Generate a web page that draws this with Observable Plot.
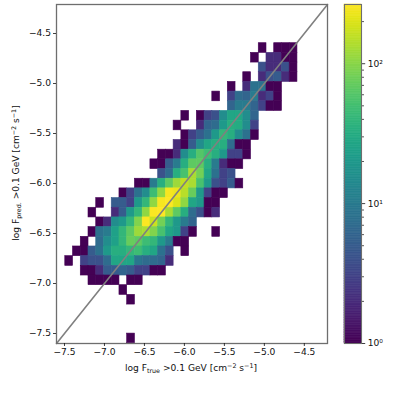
<!DOCTYPE html>
<html>
<head>
<meta charset="utf-8">
<script src="https://cdn.jsdelivr.net/npm/d3@7"></script>
<script src="https://cdn.jsdelivr.net/npm/@observablehq/plot@0.6"></script>
<style>
html,body{margin:0;padding:0;background:#fff;width:399px;height:399px;overflow:hidden}
#wrap{position:relative;width:399px;height:399px}
#wrap svg{position:absolute;left:0;top:0;background:transparent;max-width:none}
</style>
</head>
<body>
<div id="wrap"></div>
<script>
const xEdgeStart = -7.49, yEdgeStart = -4.597, binSize = 0.0968;
const xDomain = [-7.6, -4.21], yDomain = [-7.6, -4.21];
const countDomain = [1, 265];
const xTicks = [-7.5, -7, -6.5, -6, -5.5, -5, -4.5];
const yTicks = [-7.5, -7, -6.5, -6, -5.5, -5, -4.5];
const majorCounts = [1, 10, 100];
const minorCounts = [2,3,4,5,6,7,8,9,20,30,40,50,60,70,80,90,200];
// Each row runs from the top of the grid down: [first column, counts...]
const rows = [
 [25, 1,0,1,1,1],
 [24, 1,0,2,2,1,1],
 [25, 4,2,2,4,1],
 [23, 1,0,2,4,5,2,1],
 [21, 1,0,2,8,8,1,1],
 [19, 1,0,3,7,6,10,2,3,1],
 [21, 6,10,10,6,3,1,1],
 [15, 1,0,1,3,4,15,27,27,15,6],
 [14, 1,0,0,2,6,7,20,33,30,15,3],
 [15, 1,3,5,8,20,40,33,15,8,1],
 [14, 2,1,5,15,27,33,33,7,1,1],
 [12, 1,1,2,15,33,60,46,33,20,3,3,1],
 [11, 1,1,5,10,33,66,66,33,10,2,1,1],
 [12, 4,7,33,52,130,80,27,8,3,4],
 [9, 1,1,10,33,66,118,158,130,52,20,4,3,5,1],
 [7, 1,3,8,15,46,105,245,225,145,72,20,3,1,1],
 [4, 1,0,5,5,3,20,40,105,245,262,195,105,27,20,1,1],
 [3, 1,0,0,2,5,20,40,105,255,262,130,66,33,7,4,1,2],
 [4, 1,2,15,20,40,92,255,170,80,40,20,10,6],
 [3, 1,8,10,24,40,66,118,130,92,52,27,20,3,1,0,0,1],
 [2, 1,0,7,15,24,40,72,66,46,40,20,10,1,1],
 [1, 1,1,5,8,20,33,33,40,46,33,27,8,4,0,1],
 [0, 1,0,3,4,4,7,27,27,27,9,7,7,6,2],
 [2, 1,1,2,5,5,6,5,3,3,1,1],
 [3, 1,1,1,1,0,1,1],
 [7, 1],
 [8, 1],
 [],
 [],
 [],
 [8, 1]
];

const cells = [];
rows.forEach((row, r) => {
  row.slice(1).forEach((count, i) => {
    if (count > 0) {
      const c = row[0] + i;
      cells.push({
        x1: xEdgeStart + c * binSize,
        x2: xEdgeStart + (c + 1) * binSize,
        y1: yEdgeStart - (r + 1) * binSize,
        y2: yEdgeStart - r * binSize,
        count
      });
    }
  });
});

const fmt = d => d.toFixed(1).replace("-", "\u2212");
const font = "DejaVu Sans";
const fs = 9.1;
const ink = "#111";

const main = Plot.plot({
  width: 399, height: 399,
  marginLeft: 56, marginRight: 72, marginTop: 4, marginBottom: 56,
  style: {fontFamily: font, fontSize: fs + "px", background: "transparent", color: ink},
  x: {domain: xDomain, label: null},
  y: {domain: yDomain, label: null},
  color: {type: "log", scheme: "viridis", domain: countDomain},
  marks: [
    Plot.rect(cells, {x1: "x1", x2: "x2", y1: "y1", y2: "y2", fill: "count", stroke: "count", strokeWidth: 0.6, strokeOpacity: 1}),
    Plot.line([[xDomain[0], yDomain[0]], [xDomain[1], yDomain[1]]], {stroke: "#808080", strokeWidth: 1.6}),
    Plot.frame({stroke: "#6e6e6e", strokeWidth: 1.3}),
    Plot.axisX({ticks: xTicks, tickFormat: fmt, tickSize: 3, tickPadding: 2.5, fontSize: fs, strokeWidth: 0.8, label: null}),
    Plot.axisY({ticks: yTicks, tickFormat: fmt, tickSize: 3, tickPadding: 2.5, fontSize: fs, strokeWidth: 0.8, label: null})
  ]
});

const barSteps = d3.range(0, 200).map(i => ({
  lo: Math.pow(countDomain[1], i / 200),
  hi: Math.pow(countDomain[1], (i + 1) / 200)
}));
const bar = Plot.plot({
  width: 399, height: 399,
  marginLeft: 344, marginRight: 38, marginTop: 4, marginBottom: 56,
  style: {fontFamily: font, fontSize: fs + "px", background: "transparent", color: ink},
  x: {domain: [0, 1], axis: null},
  y: {type: "log", domain: countDomain, axis: null},
  color: {type: "log", scheme: "viridis", domain: countDomain},
  marks: [
    Plot.rect(barSteps, {x1: 0, x2: 1, y1: "lo", y2: "hi", fill: "lo", stroke: "lo", strokeWidth: 0.6}),
    Plot.frame({stroke: "#6e6e6e", strokeWidth: 1.1}),
    Plot.axisY({anchor: "right", ticks: minorCounts, tickFormat: () => "", tickSize: 2, strokeWidth: 0.7, label: null}),
    Plot.axisY({anchor: "right", ticks: majorCounts, tickSize: 3.2, tickPadding: 3, fontSize: fs,
      tickFormat: d => ({1: "10\u2070", 10: "10\u00b9", 100: "10\u00b2"})[d], strokeWidth: 0.8, label: null})
  ]
});

const wrap = document.getElementById("wrap");
wrap.appendChild(main);
wrap.appendChild(bar);

function label(x, y, rotate, parts) {
  const t = d3.select(main).append("text")
    .attr("text-anchor", "middle").attr("fill", ink)
    .attr("font-family", font).attr("font-size", fs)
    .attr("transform", `translate(${x},${y}) rotate(${rotate})`);
  let prev = 0;
  parts.forEach(([s, shift]) => {
    const ts = t.append("tspan").text(s).attr("dy", (shift || 0) - prev);
    if (shift) ts.attr("font-size", fs * 0.7);
    prev = shift || 0;
  });
}
label(191, 371, 0, [["log F", 0], ["true", 2], [" >0.1 GeV [cm", 0], ["\u22122", -3], [" s", 0], ["\u22121", -3], ["]", 0]]);
label(19, 173, -90, [["log F", 0], ["pred.", 2], [" >0.1 GeV [cm", 0], ["\u22122", -3], [" s", 0], ["\u22121", -3], ["]", 0]]);
</script>
</body>
</html>
